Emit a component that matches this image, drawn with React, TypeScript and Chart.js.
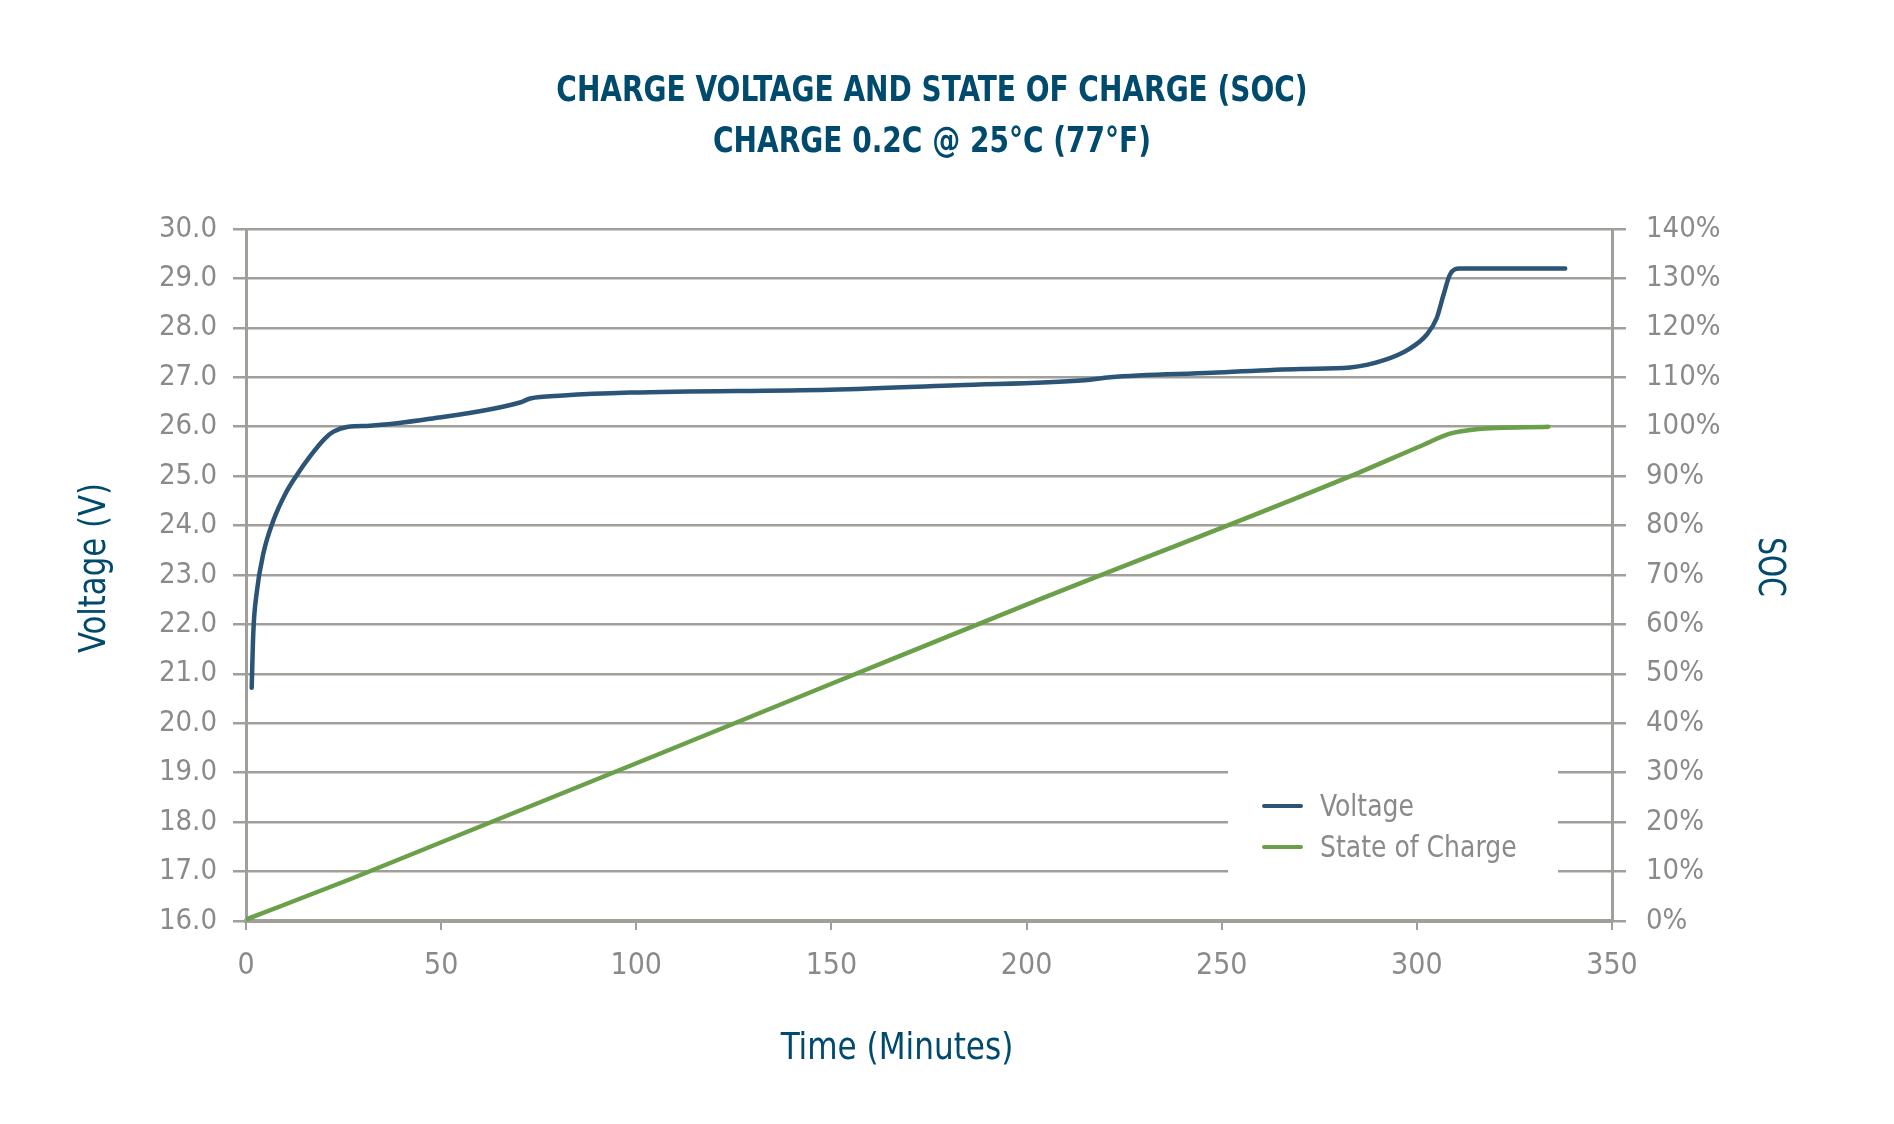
import { useEffect, useRef } from "react";
import { Chart, registerables } from "chart.js";

Chart.register(...registerables);

// Charge voltage (V) over time (minutes)
const voltageTime = [
  1.46, 1.88, 2.74, 4.43, 7.0, 10.0, 13.0, 16.4, 20.2, 22.4, 26.2, 31.8, 47.1,
  70.2, 72.8, 81.3, 98.4, 149.5, 182.2, 214.9, 221.4, 247.5, 270, 282.9, 291.4,
  298.2, 302.5, 305.1, 306.8, 308.5, 311, 338,
];
const voltageValues = [
  20.72, 21.85, 22.64, 23.43, 24.1, 24.63, 25.02, 25.4, 25.76, 25.9, 26.0,
  26.02, 26.16, 26.49, 26.57, 26.63, 26.69, 26.75, 26.84, 26.94, 27.0, 27.09,
  27.17, 27.2, 27.34, 27.58, 27.86, 28.2, 28.66, 29.08, 29.2, 29.2,
];

// State of charge (%) over time (minutes)
const socTime = [0, 26.5, 150, 200, 283, 301, 308.5, 315.3, 333.7];
const socValues = [0.3, 8.4, 48, 64, 90, 96.1, 98.6, 99.5, 100];

const titleLines = [
  "CHARGE VOLTAGE AND STATE OF CHARGE (SOC)",
  "CHARGE 0.2C @ 25°C (77°F)",
];
const xAxisTitle = "Time (Minutes)";
const yAxisTitle = "Voltage (V)";
const y1AxisTitle = "SOC";
const seriesLabels = ["Voltage", "State of Charge"];

const timeRange = [0, 350, 50];
const voltageRange = [16, 30, 1];
const socRange = [0, 140, 10];

const FONT =
  "'Liberation Sans Narrow', 'DejaVu Sans Condensed', 'Roboto', sans-serif";
const TITLE_BLUE = "#004a6d";
const GRID = "#a19f9a";
const TICK_GREY = "#8a8a8a";
const VOLT_BLUE = "#2c5477";
const SOC_GREEN = "#6aa049";

function drawText(
  ctx: CanvasRenderingContext2D,
  text: string,
  x: number,
  y: number,
  size: number,
  weight: string,
  color: string,
  rotate = 0,
  squeeze = 1,
  align: CanvasTextAlign = "center"
) {
  ctx.save();
  ctx.translate(x, y);
  ctx.rotate(rotate);
  ctx.scale(squeeze, 1);
  ctx.font = `${weight} ${size}px ${FONT}`;
  ctx.fillStyle = color;
  ctx.textAlign = align;
  ctx.textBaseline = "middle";
  ctx.fillText(text, 0, 0);
  ctx.restore();
}

const decorations = {
  id: "decorations",
  afterDraw(chart: any) {
    const { ctx, chartArea } = chart;
    const cx = (chartArea.left + chartArea.right) / 2;

    // Title (two lines, condensed)
    drawText(ctx, titleLines[0], cx + 3, 84, 36, "bold", TITLE_BLUE, 0, 0.865);
    drawText(ctx, titleLines[1], cx + 3, 135, 36, "bold", TITLE_BLUE, 0, 0.865);

    // Axis titles
    drawText(ctx, yAxisTitle, 87, 560, 38, "normal", TITLE_BLUE, -Math.PI / 2, 0.9);
    drawText(ctx, y1AxisTitle, 1761, 559, 38, "normal", TITLE_BLUE, Math.PI / 2, 0.82);
    drawText(ctx, xAxisTitle, 889, 1041, 38, "normal", TITLE_BLUE, 0, 0.91);

    // Legend over the lower right of the plot
    ctx.save();
    ctx.fillStyle = "#ffffff";
    ctx.fillRect(1220, 740, 330, 150);
    const rows = [798, 839];
    chart.data.datasets.forEach((ds: any, i: number) => {
      const y = rows[i];
      ctx.strokeStyle = ds.borderColor;
      ctx.lineWidth = 4;
      ctx.lineCap = "round";
      ctx.beginPath();
      ctx.moveTo(1256, y);
      ctx.lineTo(1293, y);
      ctx.stroke();
      drawText(ctx, ds.label, 1312, y + 2, 30, "normal", TICK_GREY, 0, 0.93, "left");
    });
    ctx.restore();
  },
};

export default function App() {
  const canvasRef = useRef<HTMLCanvasElement | null>(null);

  useEffect(() => {
    const canvas = canvasRef.current;
    if (!canvas) return;

    const chart = new Chart(canvas, {
      type: "line",
      data: {
        datasets: [
          {
            label: seriesLabels[0],
            data: voltageTime.map((t, i) => ({ x: t, y: voltageValues[i] })),
            borderColor: VOLT_BLUE,
            borderWidth: 4.5,
            borderCapStyle: "round",
            pointRadius: 0,
            cubicInterpolationMode: "monotone",
            yAxisID: "y",
          },
          {
            label: seriesLabels[1],
            data: socTime.map((t, i) => ({ x: t, y: socValues[i] })),
            borderColor: SOC_GREEN,
            borderWidth: 4.5,
            borderCapStyle: "round",
            pointRadius: 0,
            cubicInterpolationMode: "monotone",
            yAxisID: "y1",
          },
        ],
      },
      options: {
        responsive: false,
        animation: false,
        layout: { padding: { top: 221, left: 0, right: 0, bottom: 0 } },
        plugins: {
          legend: { display: false },
          title: { display: false },
          tooltip: { enabled: false },
        },
        scales: {
          x: {
            type: "linear",
            min: timeRange[0],
            max: timeRange[1],
            ticks: {
              stepSize: timeRange[2],
              color: TICK_GREY,
              font: { family: FONT, size: 30 },
              padding: 18,
            },
            grid: {
              drawOnChartArea: false,
              drawTicks: true,
              tickLength: 9,
              color: GRID,
              lineWidth: 2,
            },
            border: { color: GRID, width: 4 },
            afterFit: (s: any) => {
              s.height = 187;
            },
          },
          y: {
            position: "left",
            min: voltageRange[0],
            max: voltageRange[1],
            ticks: {
              stepSize: voltageRange[2],
              color: TICK_GREY,
              font: { family: FONT, size: 29 },
              padding: 16,
              callback: (v: any) => Number(v).toFixed(1),
            },
            grid: { color: GRID, lineWidth: 2.5, tickLength: 13 },
            border: { color: GRID, width: 3 },
            afterFit: (s: any) => {
              s.width = 238;
            },
          },
          y1: {
            position: "right",
            min: socRange[0],
            max: socRange[1],
            ticks: {
              stepSize: socRange[2],
              color: TICK_GREY,
              font: { family: FONT, size: 29 },
              padding: 20,
              callback: (v: any) => `${v}%`,
            },
            grid: {
              drawOnChartArea: false,
              color: GRID,
              lineWidth: 2.5,
              tickLength: 14,
            },
            border: { color: GRID, width: 3 },
            afterFit: (s: any) => {
              s.width = 274;
            },
          },
        },
      },
      plugins: [decorations],
    } as any);

    return () => chart.destroy();
  }, []);

  return (
    <div style={{ width: 1878, height: 1100, background: "#ffffff" }}>
      <canvas
        ref={canvasRef}
        width={1878}
        height={1100}
        style={{ display: "block", width: 1878, height: 1100 }}
      />
    </div>
  );
}
